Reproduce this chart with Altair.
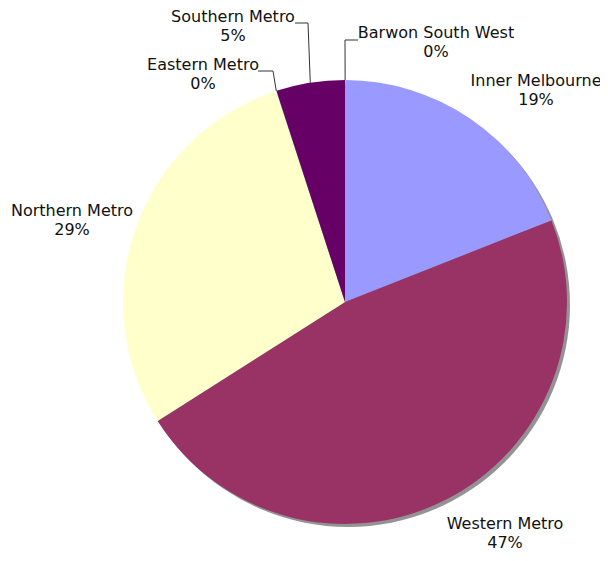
import altair as alt
import pandas as pd
import numpy as np

# ---- data ----
regions = ["Barwon South West", "Inner Melbourne", "Western Metro",
           "Northern Metro", "Eastern Metro", "Southern Metro"]
shares = [0.02, 19, 47, 29, 0.02, 5]
pct_labels = ["0%", "19%", "47%", "29%", "0%", "5%"]
colors = ["#FF8080", "#9999FF", "#993366", "#FFFFCC", "#CCFFFF", "#660066"]

# ---- layout (plot-area pixel coordinates) ----
CX, CY, R = 337, 294, 222
label_x = [428, 528, 497, 64, 195, 225]
label_y = [30, 78, 521, 208, 62, 14]
# leader lines: (elbow x, elbow y, end x, end y) for the small slices
leader_regions = ["Barwon South West", "Eastern Metro", "Southern Metro"]
leader_elbow_x = [337, 265, 300]
leader_elbow_y = [32, 63, 15]
leader_end_x = [350, 250, 287]
leader_end_y = [32, 63, 15]

pie_df = pd.DataFrame({
    "region": regions,
    "share": shares,
    "idx": list(range(len(regions))),
})

lab_df = pd.DataFrame({
    "region": regions,
    "label": [f"{r}\n{p}" for r, p in zip(regions, pct_labels)],
    "lx": label_x,
    "ly": label_y,
})

# leader lines start at the slice edge, at the slice's mid angle
tot = float(sum(shares))
cum = np.cumsum([0] + shares)
rows = []
for i, reg in enumerate(leader_regions):
    k = regions.index(reg)
    mid = (cum[k] + cum[k + 1]) / 2 / tot * 2 * np.pi
    ex = CX + R * np.sin(mid)
    ey = CY - R * np.cos(mid)
    rows.append({"region": reg, "seq": 0, "px": ex, "py": ey})
    rows.append({"region": reg, "seq": 1, "px": leader_elbow_x[i], "py": leader_elbow_y[i]})
    rows.append({"region": reg, "seq": 2, "px": leader_end_x[i], "py": leader_end_y[i]})
lead_df = pd.DataFrame(rows)

shadow = alt.Chart(pd.DataFrame({"full": [1]})).mark_arc(
    radius=R, color="#808080", opacity=0.85
).encode(
    theta=alt.Theta("full:Q"),
    x=alt.value(CX + 3), y=alt.value(CY + 3),
)

pie = alt.Chart(pie_df).mark_arc(radius=R).encode(
    theta=alt.Theta("share:Q", stack=True),
    order=alt.Order("idx:Q", sort="ascending"),
    color=alt.Color("region:N", scale=alt.Scale(domain=regions, range=colors), legend=None),
    x=alt.value(CX), y=alt.value(CY),
)

leaders = alt.Chart(lead_df).mark_line(color="#333333", strokeWidth=1).encode(
    x=alt.X("px:Q", scale=None, axis=None),
    y=alt.Y("py:Q", scale=None, axis=None),
    detail="region:N",
    order="seq:Q",
)

labels = alt.Chart(lab_df).mark_text(
    font="DejaVu Sans", fontSize=16, lineBreak="\n", lineHeight=19,
    align="center", baseline="alphabetic", color="#111111"
).encode(
    x=alt.X("lx:Q", scale=None, axis=None),
    y=alt.Y("ly:Q", scale=None, axis=None),
    text="label:N",
)

chart = alt.layer(shadow, pie, leaders, labels).resolve_scale(
    theta="independent"
).properties(
    width=592, height=545,
    autosize=alt.AutoSizeParams(type="none"),
    padding=0,
).configure_view(stroke=None)

chart.save("out.html", embed_options={"renderer": "svg", "actions": False})
